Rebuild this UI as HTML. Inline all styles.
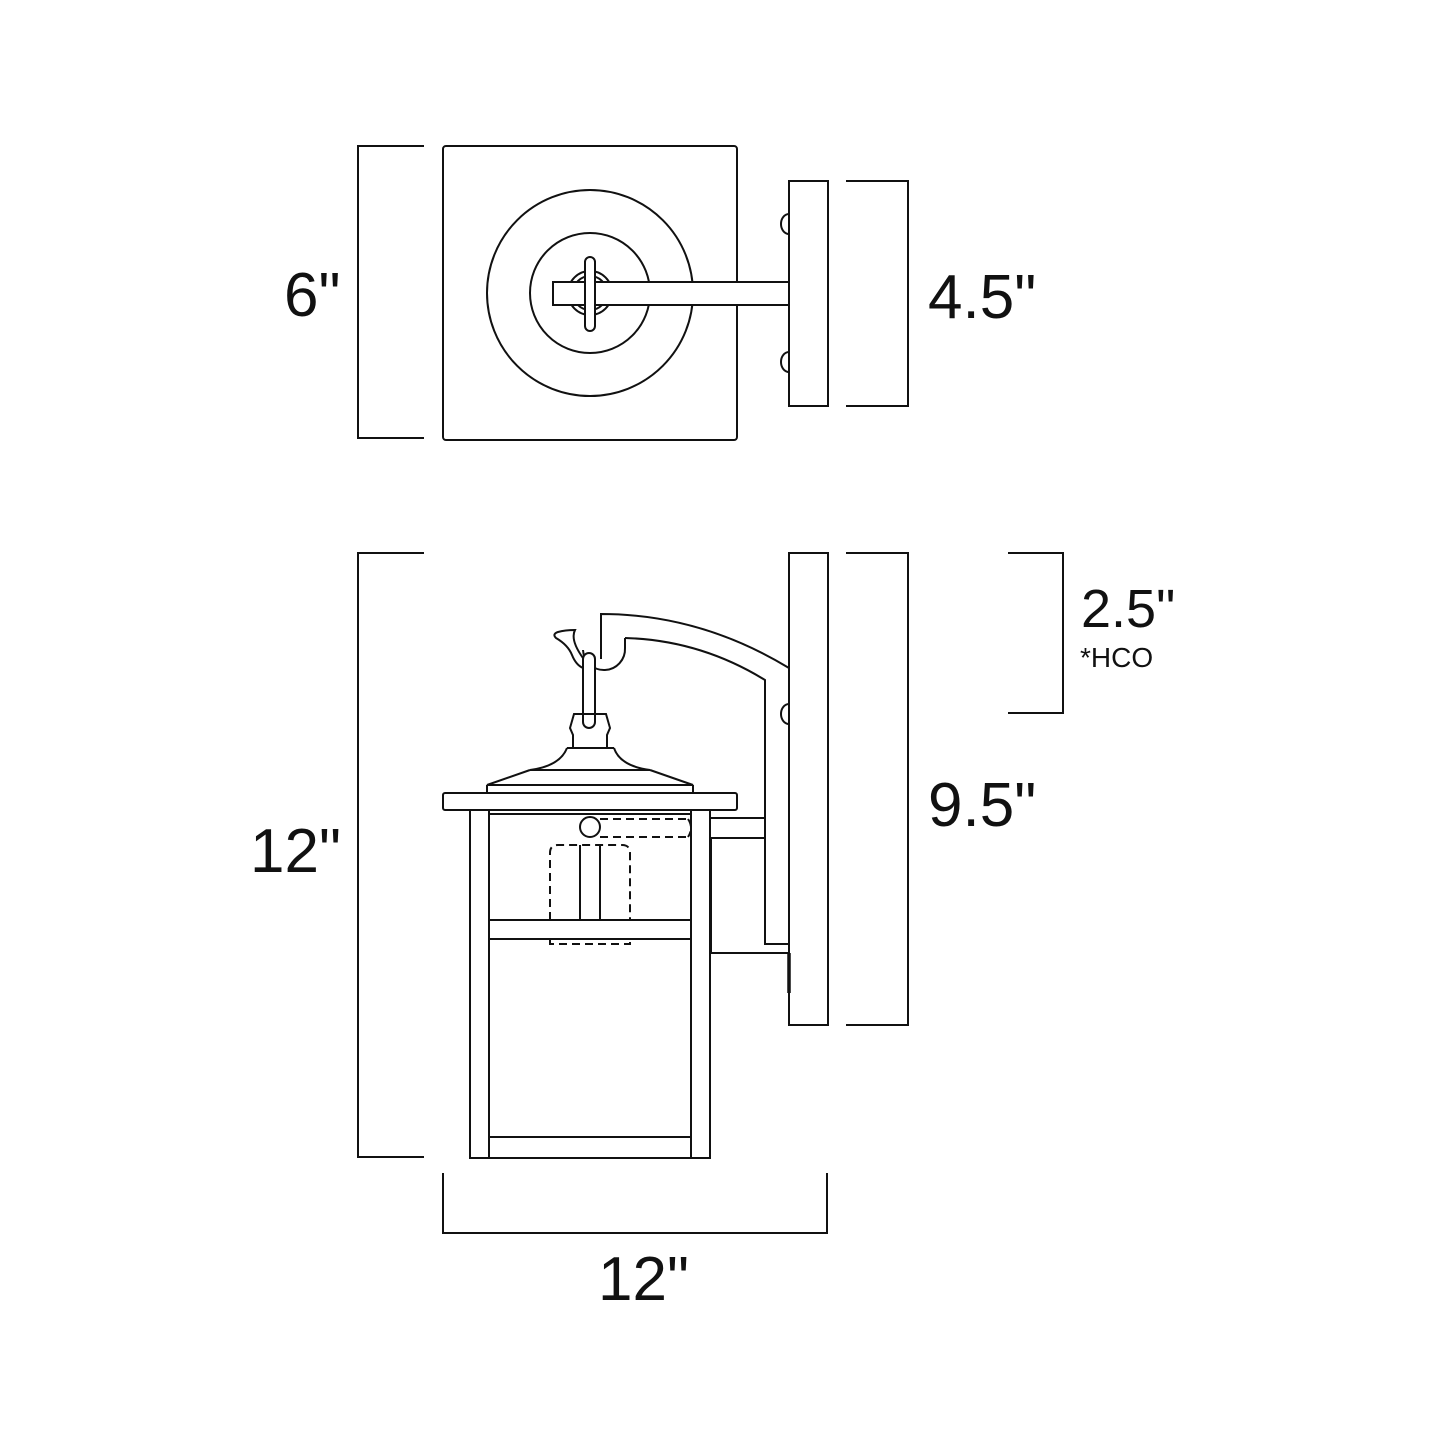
<!DOCTYPE html>
<html><head><meta charset="utf-8"><style>
html,body{margin:0;padding:0;background:#fff;}
svg{display:block;}
text{font-family:"Liberation Sans",sans-serif;fill:#111;}
</style></head><body>
<svg width="1445" height="1445" viewBox="0 0 1445 1445" xmlns="http://www.w3.org/2000/svg">
<g fill="none" stroke="#111" stroke-width="2">
<!-- TOP VIEW -->
<rect x="443" y="146" width="294" height="294" rx="3"/>
<circle cx="590" cy="293" r="103"/>
<circle cx="590" cy="293" r="60"/>
<circle cx="590" cy="293" r="22"/>
<circle cx="590" cy="293" r="17"/>
<rect x="553" y="282" width="236" height="23" fill="#fff"/>
<rect x="585" y="257" width="10" height="74" rx="5" fill="#fff"/>
<rect x="789" y="181" width="39" height="225"/>
<path d="M789 214 A8 10 0 0 0 789 234"/>
<path d="M789 352 A8 10 0 0 0 789 372"/>
<path d="M424 146 H358 V438 H424"/>
<path d="M846 181 H908 V406 H846"/>

<!-- SIDE VIEW -->
<rect x="789" y="553" width="39" height="472"/>
<path d="M789 704 A8 10 0 0 0 789 724"/>
<path d="M601 659 V614 Q700 614 789 668"/>
<path d="M625 638 V648 A20 20 0 0 1 583 650"/>
<path d="M625 638 Q700 640 765 680 V944 H789"/>
<path d="M583 658 Q570 640 575 630 Q565 630 558 632 Q552 634 556 638 Q568 645 572 655 Q576 665 583 668"/>
<rect x="583" y="653" width="12" height="75" rx="6" fill="#fff"/>
<path d="M573 747 V735 L570 728 L574 714 H606 L610 728 L607 735 V747"/>
<path d="M567 748 H614"/>
<path d="M567 748 Q560 766 530 770 H650 Q620 766 614 748"/>
<path d="M530 770 L487 785 H693 L650 770"/>
<path d="M487 785 V793 M693 785 V793"/>
<rect x="443" y="793" width="294" height="17" rx="2"/>
<path d="M470 810 V1158 H710 V810"/>
<path d="M489 810 V1158 M691 810 V1158"/>
<path d="M489 814 H691"/>
<path d="M489 920 H691 M489 939 H691"/>
<path d="M489 1137 H691"/>
<path d="M580 845 V920 M600 845 V920"/>
<circle cx="590" cy="827" r="10" fill="#fff"/>
<g stroke-dasharray="8 5">
<path d="M550 920 V853 Q550 845 558 845 H622 Q630 845 630 853 V920"/>
<path d="M550 940 V944 H630 V940"/>
<path d="M600 819 H688 M600 837 H688 M688 819 Q694 828 688 837"/>
</g>
<path d="M710 818 H765 M710 838 H765"/>
<path d="M711 838 V953 H789"/>
<path d="M789 953 V993" stroke-width="3.5"/>
<path d="M424 553 H358 V1157 H424"/>
<path d="M846 553 H908 V1025 H846"/>
<path d="M1008 553 H1063 V713 H1008"/>
<path d="M443 1173 V1233 H827 V1173"/>
</g>
<g font-size="62">
<text x="284" y="316">6"</text>
<text x="928" y="318">4.5"</text>
<text x="250" y="872">12"</text>
<text x="928" y="826">9.5"</text>
<text x="598" y="1300">12"</text>
</g>
<text x="1081" y="627" font-size="54">2.5"</text>
<text x="1080" y="667" font-size="28">*HCO</text>
</svg>
</body></html>
